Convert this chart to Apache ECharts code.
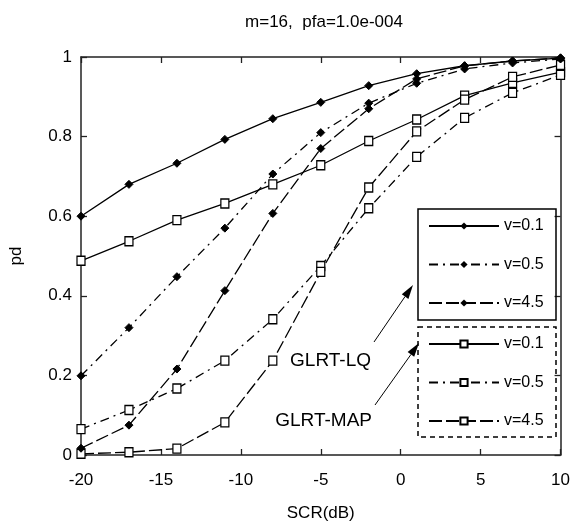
<!DOCTYPE html>
<html>
<head>
<meta charset="utf-8">
<script src="https://cdn.jsdelivr.net/npm/echarts@6/dist/echarts.min.js"></script>
<style>
    html, body { margin: 0; padding: 0; background: #fff; }
    #chart1Container { width: 573px; height: 527px; }
</style>
</head>
<body>
<div id="chart1Container"></div>
<script>
var FONT = "'Liberation Sans', Arial, sans-serif";

// SCR (dB) sample points
var scr = [-20, -17, -14, -11, -8, -5, -2, 1, 4, 7, 10];

// GLRT-LQ (filled markers)
var lq01 = [0.600, 0.680, 0.733, 0.793, 0.845, 0.886, 0.928, 0.958, 0.978, 0.990, 0.997];
var lq05 = [0.199, 0.320, 0.448, 0.570, 0.706, 0.810, 0.884, 0.934, 0.970, 0.985, 0.995];
var lq45 = [0.017, 0.075, 0.216, 0.413, 0.607, 0.770, 0.870, 0.945, 0.978, 0.990, 0.998];

// GLRT-MAP (hollow squares)
var map01 = [0.488, 0.537, 0.590, 0.632, 0.680, 0.728, 0.789, 0.843, 0.903, 0.935, 0.962];
var map05 = [0.065, 0.113, 0.167, 0.237, 0.341, 0.475, 0.620, 0.749, 0.847, 0.910, 0.955];
var map45 = [0.003, 0.007, 0.016, 0.082, 0.237, 0.460, 0.672, 0.813, 0.893, 0.950, 0.980];

var xTicks = { min: -20, max: 10, interval: 5 };
var yTicks = { min: 0, max: 1, interval: 0.2 };

function pairs(ys) {
    var out = [];
    for (var i in scr) {
        out.push([scr[i], ys[i]]);
    }
    return out;
}

var dashDot = [9, 5, 2, 5];
var longDash = [13, 4];

function lqSeries(name, ys, dash) {
    return {
        name: name, type: 'line', data: pairs(ys),
        symbol: 'diamond', symbolSize: 8,
        itemStyle: { color: '#000', borderColor: '#000' },
        lineStyle: { color: '#000', width: 1.3, type: dash },
        z: 3
    };
}

function mapSeries(name, ys, dash) {
    return {
        name: name, type: 'line', data: pairs(ys),
        symbol: 'rect', symbolSize: [8, 9],
        itemStyle: { color: '#fff', borderColor: '#000', borderWidth: 1.3 },
        lineStyle: { color: '#000', width: 1.3, type: dash },
        z: 2
    };
}

var chart1 = echarts.init(document.getElementById('chart1Container'), null, { renderer: 'canvas' });

var axisLine = { show: true, onZero: false, lineStyle: { color: '#222', width: 1.5 } };
var tick = { show: true, inside: true, length: 6, lineStyle: { color: '#222', width: 1.3 } };
var legendText = { fontFamily: FONT, fontSize: 16, color: '#000', lineHeight: 20 };

var chart1option = {
    backgroundColor: '#fff',
    animation: false,
    title: {
        text: 'm=16,  pfa=1.0e-004',
        left: 319, top: 9, textAlign: 'center',
        textStyle: { fontFamily: FONT, fontSize: 17, fontWeight: 'normal', color: '#000' }
    },
    grid: { left: 70, right: 5, top: 57, bottom: 70 },
    xAxis: [
        {
            type: 'value', min: xTicks.min, max: xTicks.max, interval: xTicks.interval,
            name: 'SCR(dB)', nameLocation: 'middle', nameGap: 50,
            nameTextStyle: { fontFamily: FONT, fontSize: 17, color: '#000' },
            axisLine: axisLine, axisTick: tick, splitLine: { show: false },
            axisLabel: { fontFamily: FONT, fontSize: 17, color: '#000', margin: 17 }
        },
        {
            type: 'value', position: 'top', min: xTicks.min, max: xTicks.max, interval: xTicks.interval,
            axisLine: axisLine, axisTick: tick, splitLine: { show: false },
            axisLabel: { show: false }
        }
    ],
    yAxis: [
        {
            type: 'value', min: yTicks.min, max: yTicks.max, interval: yTicks.interval,
            name: 'pd', nameLocation: 'middle', nameGap: 56,
            nameTextStyle: { fontFamily: FONT, fontSize: 17, color: '#000' },
            axisLine: axisLine, axisTick: tick, splitLine: { show: false },
            axisLabel: {
                fontFamily: FONT, fontSize: 17, color: '#000', margin: 9,
                formatter: function (v) { return String(Math.round(v * 10) / 10); }
            }
        },
        {
            type: 'value', position: 'right', min: yTicks.min, max: yTicks.max, interval: yTicks.interval,
            axisLine: axisLine, axisTick: tick, splitLine: { show: false },
            axisLabel: { show: false }
        }
    ],
    legend: [
        {
            data: ['LQ v=0.1', 'LQ v=0.5', 'LQ v=4.5'],
            orient: 'vertical', left: 428, top: 216, padding: 0,
            itemWidth: 70, itemHeight: 9, itemGap: 18.5,
            selectedMode: false,
            textStyle: legendText,
            formatter: function (n) { return n.split(' ')[1]; }
        },
        {
            data: ['MAP v=0.1', 'MAP v=0.5', 'MAP v=4.5'],
            orient: 'vertical', left: 428, top: 334, padding: 0,
            itemWidth: 70, itemHeight: 9, itemGap: 18.5,
            selectedMode: false,
            textStyle: legendText,
            formatter: function (n) { return n.split(' ')[1]; }
        }
    ],
    graphic: [
        // legend boxes
        { type: 'rect', shape: { x: 418, y: 209, width: 138, height: 111 },
          style: { fill: 'none', stroke: '#000', lineWidth: 1.5 }, z: 10 },
        { type: 'rect', shape: { x: 418, y: 327, width: 138, height: 110 },
          style: { fill: 'none', stroke: '#000', lineWidth: 1.5, lineDash: [5, 4] }, z: 10 },
        // annotations
        { type: 'text', style: { text: 'GLRT-LQ', x: 371, y: 361, align: 'right', verticalAlign: 'middle',
          font: '19px ' + FONT, fill: '#000' }, z: 10 },
        { type: 'text', style: { text: 'GLRT-MAP', x: 372, y: 421, align: 'right', verticalAlign: 'middle',
          font: '19px ' + FONT, fill: '#000' }, z: 10 },
        { type: 'line', shape: { x1: 374, y1: 342, x2: 405, y2: 296.6 },
          style: { stroke: '#000', lineWidth: 1 }, z: 10 },
        { type: 'polygon', shape: { points: [[413, 285], [408.4, 298.9], [401.8, 294.3]] },
          style: { fill: '#000' }, z: 10 },
        { type: 'line', shape: { x1: 375, y1: 405, x2: 411, y2: 354.4 },
          style: { stroke: '#000', lineWidth: 1 }, z: 10 },
        { type: 'polygon', shape: { points: [[419, 343], [414.2, 356.7], [407.6, 352.1]] },
          style: { fill: '#000' }, z: 10 }
    ],
    series: [
        lqSeries('LQ v=0.1', lq01, 'solid'),
        lqSeries('LQ v=0.5', lq05, dashDot),
        lqSeries('LQ v=4.5', lq45, longDash),
        mapSeries('MAP v=0.1', map01, 'solid'),
        mapSeries('MAP v=0.5', map05, dashDot),
        mapSeries('MAP v=4.5', map45, longDash)
    ]
};

chart1.setOption(chart1option);
window.addEventListener('resize', chart1.resize);
</script>
</body>
</html>
